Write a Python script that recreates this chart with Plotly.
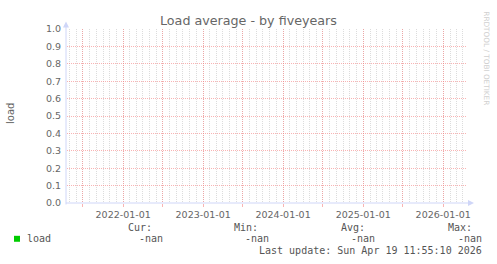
import plotly.graph_objects as go

# ---- data ----
dates = ["2021-04-19 11:55:10", "2026-04-19 11:55:10"]
load = [None, None]  # no data (all NaN)
series_name = "load"
stat_labels = ["Cur:", "Min:", "Avg:", "Max:"]
stat_values = ["-nan", "-nan", "-nan", "-nan"]
major_ticks = ["2021-07-01", "2022-01-01", "2022-07-01", "2023-01-01", "2023-07-01",
               "2024-01-01", "2024-07-01", "2025-01-01", "2025-07-01", "2026-01-01"]
major_text = ["", "2022-01-01", "", "2023-01-01", "", "2024-01-01", "", "2025-01-01", "", "2026-01-01"]
title = "Load average - by fiveyears"
last_update = "Last update: Sun Apr 19 11:55:10 2026"

W, H = 497, 264
L, R, T, B = 67, 467, 28.5, 203.5


def px(x):
    return (x - L) / (R - L)


def py(y):
    return (B - y) / (B - T)


fig = go.Figure()
fig.add_trace(go.Scatter(x=dates, y=load, mode="lines", line=dict(color="#00cc00"),
                         name=series_name, showlegend=False))

MONO = "DejaVu Sans Mono"
SANS = "DejaVu Sans"
FONT = "#666666"
txt = "#555555"
RED = "rgba(245,130,130,0.6)"
MINOR = "rgba(140,140,140,0.3)"

fig.update_layout(
    width=W, height=H,
    margin=dict(l=L, r=W - R, t=T, b=H - B, pad=0),
    paper_bgcolor="white", plot_bgcolor="white",
    showlegend=False,
    xaxis=dict(
        type="date", range=dates, tickvals=major_ticks, ticktext=major_text,
        showgrid=True, gridcolor=RED, griddash="1px,1px", gridwidth=1,
        ticks="outside", ticklen=3, tickcolor=RED,
        tickfont=dict(family=SANS, size=9.5, color=FONT),
        zeroline=False, showline=False, layer="below traces",
        minor=dict(dtick="M1", tick0="2021-05-01", showgrid=True,
                   gridcolor=MINOR, griddash="1px,1px", gridwidth=1, ticks=""),
    ),
    yaxis=dict(
        range=[0, 1], dtick=0.1, tick0=0, tickformat=".1f",
        showgrid=True, gridcolor=RED, griddash="1px,1px", gridwidth=1,
        ticks="", ticklabelstandoff=5,
        tickfont=dict(family=SANS, size=9.5, color=FONT),
        zeroline=False, showline=False,
    ),
)

axis_col = "#cfd6f8"
shapes = [
    dict(type="line", xref="paper", yref="paper", x0=px(66), x1=px(470), y0=py(203.5), y1=py(203.5),
         line=dict(color=axis_col, width=1)),
    dict(type="line", xref="paper", yref="paper", x0=px(66), x1=px(66), y0=py(205), y1=py(24),
         line=dict(color=axis_col, width=1)),
    dict(type="path", xref="paper", yref="paper",
         path=f"M {px(468)},{py(200.5)} L {px(474)},{py(203.5)} L {px(468)},{py(206.5)} Z",
         fillcolor=axis_col, line=dict(width=0)),
    dict(type="path", xref="paper", yref="paper",
         path=f"M {px(63)},{py(27)} L {px(66)},{py(21)} L {px(69)},{py(27)} Z",
         fillcolor=axis_col, line=dict(width=0)),
    dict(type="rect", xref="paper", yref="paper", x0=px(14), x1=px(20), y0=py(242.5), y1=py(236.5),
         fillcolor="#00cc00", line=dict(width=0)),
]
fig.update_layout(shapes=shapes)

ann = []
ann.append(dict(text=title, x=px(248), y=py(19.5), xref="paper", yref="paper", showarrow=False,
                xanchor="center", yanchor="middle", font=dict(family=SANS, size=12.7, color=FONT)))
ann.append(dict(text="load", x=px(10), y=py(114), xref="paper", yref="paper", showarrow=False,
                textangle=-90, xanchor="center", yanchor="middle",
                font=dict(family=SANS, size=10, color=FONT)))
ann.append(dict(text="RRDTOOL / TOBI OETIKER", x=px(487), y=py(58), xref="paper", yref="paper",
                showarrow=False, textangle=90, xanchor="center", yanchor="middle",
                font=dict(family=SANS, size=7.3, color="#d0d0d0")))
ann.append(dict(text=series_name, x=px(26), y=py(239.5), xref="paper", yref="paper", showarrow=False,
                xanchor="left", yanchor="middle", font=dict(family=MONO, size=10, color=txt)))
label_left = [127, 233, 340, 447]
value_right = [163.5, 269.5, 375.5, 482.5]
for lab, xl in zip(stat_labels, label_left):
    ann.append(dict(text=lab, x=px(xl), y=py(228), xref="paper", yref="paper", showarrow=False,
                    xanchor="left", yanchor="middle", font=dict(family=MONO, size=10, color=txt)))
for val, xr in zip(stat_values, value_right):
    ann.append(dict(text=val, x=px(xr), y=py(239.5), xref="paper", yref="paper", showarrow=False,
                    xanchor="right", yanchor="middle", font=dict(family=MONO, size=10, color=txt)))
ann.append(dict(text=last_update, x=px(482.5), y=py(251.5), xref="paper", yref="paper", showarrow=False,
                xanchor="right", yanchor="middle", font=dict(family=MONO, size=10, color=txt)))
for a in ann:
    a["borderpad"] = 0
fig.update_layout(annotations=ann)

fig.write_html("out.html")
